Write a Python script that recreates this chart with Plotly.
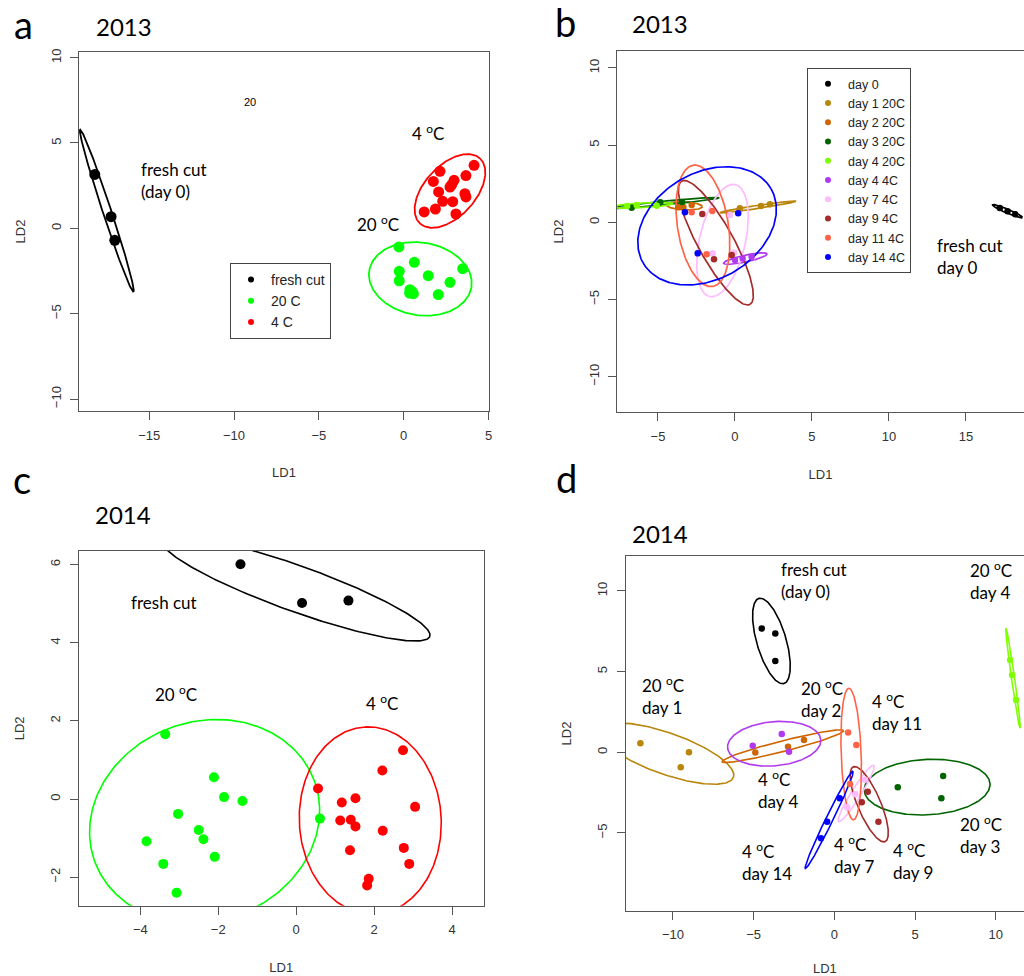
import numpy as np
import plotly.graph_objects as go

W, H = 1024, 976

# ---------------- Panel a : 2013, grouped by storage temperature ----------------
A_GROUPS = ["fresh cut", "20 C", "4 C"]
A_COLORS = ["#000000", "#00FF00", "#FF0000"]
A_X = {
    "fresh cut": [-18.21, -17.25, -17.03],
    "20 C": [-0.28, 0.63, -0.26, -0.26, 1.45, 3.48, 2.73, 0.37, 0.57, 0.35, 0.49, 2.04],
    "4 C": [4.15, 2.14, 3.67, 1.75, 2.97, 2.83, 2.73, 2.06, 3.61, 3.67, 2.30, 2.89, 1.21, 1.87, 3.08],
}
A_Y = {
    "fresh cut": [3.16, 0.68, -0.70],
    "20 C": [-1.09, -1.99, -2.52, -3.07, -2.77, -2.36, -3.16, -3.59, -3.83, -3.80, -3.70, -3.88],
    "4 C": [3.69, 3.34, 3.09, 2.75, 2.81, 2.56, 2.42, 2.13, 2.03, 1.84, 1.58, 1.56, 0.96, 1.13, 0.84],
}
# ellipse parameters: centre x, centre y, semi-major, semi-minor, angle (deg)
A_ELL = {
    "fresh cut": (-17.5, 1.03, 5.0, 0.25, -71.7),
    "20 C": (0.98, -2.96, 3.05, 2.13, -9.0),
    "4 C": (2.73, 2.19, 2.6, 1.5, 47.0),
}

# ---------------- Panel b : 2013, grouped by day / temperature ----------------
B_GROUPS = ["day 0", "day 1 20C", "day 2 20C", "day 3 20C", "day 4 20C",
            "day 4 4C", "day 7 4C", "day 9 4C", "day 11 4C", "day 14 4C"]
B_COLORS = ["#000000", "#B8860B", "#CD6600", "#006400", "#7FFF00",
            "#B23AEE", "#FFBBFF", "#A52A2A", "#FF6347", "#0000FF"]
B_X = {
    "day 0": [17.2, 17.7, 18.2],
    "day 1 20C": [0.32, 1.69, 2.27],
    "day 2 20C": [-3.68, -3.35, -2.81],
    "day 3 20C": [-6.71, -4.85, -3.44],
    "day 4 20C": [-7.0, -6.38, -5.08],
    "day 4 4C": [0.0, 0.5, 1.08],
    "day 7 4C": [-0.32, -1.45, -0.05],
    "day 9 4C": [-2.12, -1.36, -0.21],
    "day 11 4C": [-2.81, -1.47, -1.84],
    "day 14 4C": [-3.25, 0.21, -2.42],
}
B_Y = {
    "day 0": [0.92, 0.72, 0.52],
    "day 1 20C": [0.91, 1.06, 1.17],
    "day 2 20C": [0.97, 1.0, 1.12],
    "day 3 20C": [0.95, 1.30, 1.32],
    "day 4 20C": [1.05, 1.12, 1.08],
    "day 4 4C": [-2.44, -2.35, -2.23],
    "day 7 4C": [0.47, -2.01, -1.97],
    "day 9 4C": [0.54, -2.40, -2.12],
    "day 11 4C": [0.65, 0.73, -2.07],
    "day 14 4C": [0.65, 0.58, -2.01],
}
B_ELL = {
    "day 0": (17.7, 0.72, 1.05, 0.13, -23.0),
    "day 1 20C": (1.5, 1.0, 2.5, 0.1, 8.5),
    "day 2 20C": (-3.28, 1.07, 1.16, 0.26, -3.0),
    "day 3 20C": (-4.6, 1.25, 3.6, 0.12, 5.4),
    "day 4 20C": (-6.0, 1.1, 2.0, 0.15, 3.0),
    "day 4 4C": (0.68, -2.35, 1.45, 0.22, 12.0),
    "day 7 4C": (-0.81, -1.18, 3.72, 1.49, 77.0),
    "day 9 4C": (-1.24, -1.32, 4.57, 1.15, -61.0),
    "day 11 4C": (-2.08, -0.23, 3.98, 1.65, 99.1),
    "day 14 4C": (-1.81, -0.23, 4.8, 3.45, 30.0),
}

# ---------------- Panel c : 2014, grouped by storage temperature ----------------
C_GROUPS = ["fresh cut", "20 C", "4 C"]
C_COLORS = ["#000000", "#00FF00", "#FF0000"]
C_X = {
    "fresh cut": [-1.43, 0.15, 1.34],
    "20 C": [-3.36, -2.11, -1.85, -1.38, -3.03, -2.50, -2.38, -3.84, -2.09, -3.41, -3.07, 0.61],
    "4 C": [0.56, 2.74, 2.21, 1.17, 1.52, 3.05, 1.13, 1.40, 1.52, 2.22, 1.38, 2.76, 2.90, 1.86, 1.82],
}
C_Y = {
    "fresh cut": [6.01, 5.02, 5.08],
    "20 C": [1.66, 0.56, 0.05, -0.05, -0.38, -0.79, -1.03, -1.08, -1.48, -1.66, -2.40, -0.50],
    "4 C": [0.27, 1.25, 0.73, -0.09, 0.02, -0.20, -0.55, -0.53, -0.70, -0.81, -1.31, -1.25, -1.66, -2.04, -2.21],
}
C_ELL = {
    "fresh cut": (0.0, 5.39, 3.64, 0.585, -19.7),
    "20 C": (-2.35, -0.57, 3.0, 2.55, 20.0),
    "4 C": (1.9, -0.55, 2.4, 1.82, 93.0),
}

# ---------------- Panel d : 2014, grouped by day / temperature ----------------
D_GROUPS = ["day 0", "day 1 20C", "day 2 20C", "day 3 20C", "day 4 20C",
            "day 4 4C", "day 7 4C", "day 9 4C", "day 11 4C", "day 14 4C"]
D_COLORS = B_COLORS
D_X = {
    "day 0": [-4.50, -3.66, -3.66],
    "day 1 20C": [-12.02, -9.01, -9.52],
    "day 2 20C": [-4.90, -2.87, -1.88],
    "day 3 20C": [3.93, 6.74, 6.63],
    "day 4 20C": [10.89, 11.01, 11.26],
    "day 4 4C": [-5.06, -3.26, -2.81],
    "day 7 4C": [0.8, 1.3, 1.9],
    "day 9 4C": [2.07, 1.70, 2.73],
    "day 11 4C": [0.85, 1.36, 0.97],
    "day 14 4C": [0.33, -0.45, -0.83],
}
D_Y = {
    "day 0": [7.67, 7.36, 5.66],
    "day 1 20C": [0.56, 0.0, -0.93],
    "day 2 20C": [-0.02, 0.35, 0.76],
    "day 3 20C": [-2.17, -1.47, -2.85],
    "day 4 20C": [5.72, 4.79, 3.24],
    "day 4 4C": [0.41, 1.14, 0.04],
    "day 7 4C": [-3.4, -2.6, -1.7],
    "day 9 4C": [-2.44, -3.10, -4.30],
    "day 11 4C": [1.22, 0.45, -1.97],
    "day 14 4C": [-2.85, -4.30, -5.33],
}
D_ELL = {
    "day 0": (-3.9, 6.9, 2.75, 0.91, -73.6),
    "day 1 20C": (-10.4, -0.08, 4.4, 1.28, -19.5),
    "day 2 20C": (-3.19, 0.38, 3.89, 0.33, 14.3),
    "day 3 20C": (5.75, -2.16, 3.9, 1.72, 3.0),
    "day 4 20C": (11.07, 4.59, 3.13, 0.1, -82.0),
    "day 4 4C": (-3.73, 0.53, 2.9, 1.37, 5.0),
    "day 7 4C": (1.35, -2.55, 2.06, 0.3, 58.0),
    "day 9 4C": (2.16, -3.22, 2.52, 0.71, -67.0),
    "day 11 4C": (1.04, -0.11, 4.08, 0.62, 92.0),
    "day 14 4C": (-0.32, -4.18, 3.36, 0.22, 63.9),
}

# ---------------- text labels placed in data space ----------------
A_LABELS = [("fresh cut<br>(day 0)", -15.58, 2.82, "left"),
            ("4 <sup>o</sup>C", 1.45, 5.63, "center"),
            ("20 <sup>o</sup>C", -1.49, 0.27, "center")]
B_LABELS = [("fresh cut<br>day 0", 13.0, -2.22, "left")]
C_LABELS = [("fresh cut", -4.28, 5.03, "left"),
            ("20 <sup>o</sup>C", -3.08, 2.70, "center"),
            ("4 <sup>o</sup>C", 2.19, 2.47, "center")]
D_LABELS = [("fresh cut<br>(day 0)", -3.45, 10.68, "left"),
            ("20 <sup>o</sup>C<br>day 4", 8.26, 10.68, "left"),
            ("20 <sup>o</sup>C<br>day 1", -12.07, 3.51, "left"),
            ("20 <sup>o</sup>C<br>day 2", -2.17, 3.32, "left"),
            ("4 <sup>o</sup>C<br>day 11", 2.19, 2.54, "left"),
            ("4 <sup>o</sup>C<br>day 4", -4.86, -2.28, "left"),
            ("20 <sup>o</sup>C<br>day 3", 7.67, -5.10, "left"),
            ("4 <sup>o</sup>C<br>day 14", -5.83, -6.76, "left"),
            ("4 <sup>o</sup>C<br>day 7", -0.14, -6.34, "left"),
            ("4 <sup>o</sup>C<br>day 9", 3.51, -6.73, "left")]

TEXT_FONT = "Lato"
TICK_FONT = "Liberation Sans"


def ellipse(cx, cy, a, b, ang_deg, n=240):
    t = np.linspace(0, 2 * np.pi, n)
    th = np.deg2rad(ang_deg)
    x = cx + a * np.cos(t) * np.cos(th) - b * np.sin(t) * np.sin(th)
    y = cy + a * np.cos(t) * np.sin(th) + b * np.sin(t) * np.cos(th)
    return x, y


fig = go.Figure()


def add_panel(groups, colors, xs, ys, ells, xa, ya, msize, lw, legend=None, lsize=6):
    for g, col in zip(groups, colors):
        ex, ey = ellipse(*ells[g])
        fig.add_trace(go.Scatter(x=ex, y=ey, mode="lines", line=dict(color=col, width=lw),
                                 xaxis=xa, yaxis=ya, showlegend=False, hoverinfo="skip"))
    for g, col in zip(groups, colors):
        fig.add_trace(go.Scatter(x=xs[g], y=ys[g], mode="markers", name=g,
                                 marker=dict(color=col, size=msize, line=dict(width=0)),
                                 xaxis=xa, yaxis=ya, showlegend=False))
    if legend:
        for g, col in zip(groups, colors):
            fig.add_trace(go.Scatter(x=[None], y=[None], mode="markers", name=g,
                                     marker=dict(color=col, size=lsize),
                                     xaxis=xa, yaxis=ya, showlegend=True, legend=legend))


add_panel(A_GROUPS, A_COLORS, A_X, A_Y, A_ELL, "x", "y", 11, 1.8, legend="legend")
add_panel(B_GROUPS, B_COLORS, B_X, B_Y, B_ELL, "x2", "y2", 6.5, 1.7, legend="legend2")
add_panel(C_GROUPS, C_COLORS, C_X, C_Y, C_ELL, "x3", "y3", 10, 1.6)
add_panel(D_GROUPS, D_COLORS, D_X, D_Y, D_ELL, "x4", "y4", 6.5, 1.6)


def px(v):
    return v / W


def py(v):
    return 1 - v / H


def axis(domain, rng, ticks, title, anchor, mirror, is_y):
    d = dict(domain=domain, range=rng, tickvals=ticks, anchor=anchor,
             showgrid=False, zeroline=False, showline=True, mirror=mirror,
             linecolor="#555555", linewidth=1.2, ticks="outside", ticklen=8,
             tickwidth=1.2, tickcolor="#555555", automargin=False, fixedrange=True,
             tickfont=dict(family=TICK_FONT, size=13, color="#333333"),
             ticklabelstandoff=4,
             title=dict(text=title, font=dict(family=TICK_FONT, size=13, color="#333333"),
                        standoff=20 if is_y else 26))
    if is_y:
        d["tickangle"] = -90
    return d


layout = dict(
    width=W, height=H, margin=dict(l=0, r=0, t=0, b=0),
    paper_bgcolor="white", plot_bgcolor="white",
    xaxis=axis([px(79), px(489)], [-19.14, 5.03], [-15, -10, -5, 0, 5], "LD1", "y", True, False),
    yaxis=axis([py(411), py(52)], [-10.70, 10.33], [-10, -5, 0, 5, 10], "LD2", "x", True, True),
    xaxis2=axis([px(617), 1.0], [-7.66, 18.77], [-5, 0, 5, 10, 15], "LD1", "y2", True, False),
    yaxis2=axis([py(412.3), py(50.7)], [-12.31, 11.12], [-10, -5, 0, 5, 10], "LD2", "x2", False, True),
    xaxis3=axis([px(78.7), px(483.7)], [-5.58, 4.81], [-4, -2, 0, 2, 4], "LD1", "y3", True, False),
    yaxis3=axis([py(905.7), py(551)], [-2.73, 6.35], [-2, 0, 2, 4, 6], "LD2", "x3", True, True),
    xaxis4=axis([px(625.7), 1.0], [-12.93, 11.75], [-10, -5, 0, 5, 10], "LD1", "y4", True, False),
    yaxis4=axis([py(910.7), py(556.3)], [-9.82, 12.15], [-5, 0, 5, 10], "LD2", "x4", False, True),
    legend=dict(x=px(230), y=py(263), xanchor="left", yanchor="top",
                bordercolor="#444444", borderwidth=1, bgcolor="white",
                font=dict(family=TICK_FONT, size=14, color="#222222"),
                traceorder="normal", itemclick=False, itemdoubleclick=False),
    legend2=dict(x=px(807), y=py(68), xanchor="left", yanchor="top",
                 bordercolor="#444444", borderwidth=1, bgcolor="white",
                 font=dict(family=TICK_FONT, size=12.5, color="#222222"),
                 traceorder="normal", itemclick=False, itemdoubleclick=False),
    showlegend=True,
)
fig.update_layout(**layout)

annotations = []
for t, x, y in [("a", 23, 24), ("b", 565, 22), ("c", 22, 479), ("d", 566, 478)]:
    annotations.append(dict(text=t, x=px(x), y=py(y), xref="paper", yref="paper",
                            xanchor="center", yanchor="middle", showarrow=False,
                            font=dict(family=TEXT_FONT, size=38, color="black")))
for t, x, y in [("2013", 94, 27), ("2013", 630, 23), ("2014", 93, 514), ("2014", 630, 533)]:
    annotations.append(dict(text=t, x=px(x), y=py(y), xref="paper", yref="paper",
                            xanchor="left", yanchor="middle", showarrow=False,
                            font=dict(family=TEXT_FONT, size=24, color="black")))
for labels, xr, yr in [(A_LABELS, "x", "y"), (B_LABELS, "x2", "y2"),
                       (C_LABELS, "x3", "y3"), (D_LABELS, "x4", "y4")]:
    for t, x, y, anc in labels:
        annotations.append(dict(text=t, x=x, y=y, xref=xr, yref=yr, xanchor=anc,
                                yanchor="middle", align="left", showarrow=False,
                                font=dict(family=TEXT_FONT, size=17, color="black")))
annotations.append(dict(text="20", x=-9.06, y=7.40, xref="x", yref="y", showarrow=False,
                        xanchor="center", yanchor="middle",
                        font=dict(family=TICK_FONT, size=11, color="black")))
fig.update_layout(annotations=annotations)

fig.write_html("out.html", config={"displayModeBar": False},
               post_script="document.body.style.margin='0';document.body.style.overflow='hidden';")
